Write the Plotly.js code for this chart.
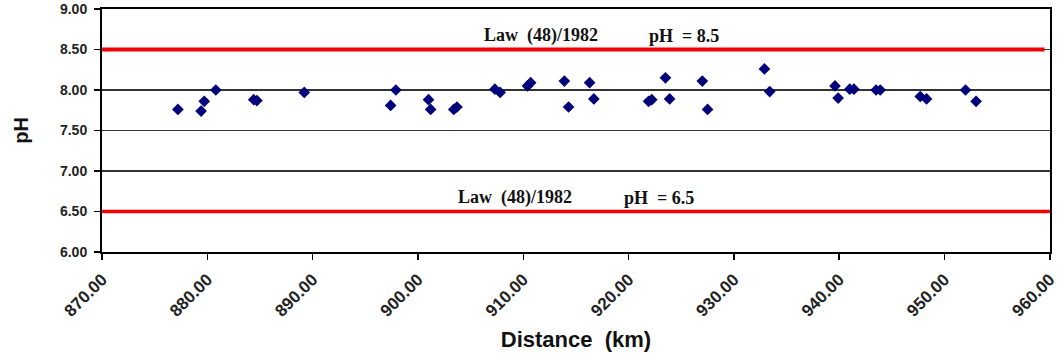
<!DOCTYPE html>
<html>
<head>
<meta charset="utf-8">
<script src="https://cdn.plot.ly/plotly-3.0.1.min.js"></script>
<style>html,body{margin:0;padding:0;background:#fff;}#chart{width:1058px;height:355px;}</style>
</head>
<body>
<div id="chart"></div>
<script>
// Measured pH along distance (km)
const distanceKm = [877.2, 879.4, 879.7, 880.8, 884.4, 884.7, 889.2, 897.4, 897.9, 901.0,
  901.2, 903.4, 903.7, 907.3, 907.8, 910.4, 910.7, 913.9, 914.3, 916.3,
  916.7, 921.9, 922.2, 923.5, 923.9, 927.0, 927.5, 932.9, 933.4, 939.6,
  939.9, 941.0, 941.4, 943.5, 943.9, 947.7, 948.3, 952.0, 953.0];
const phValues = [7.76, 7.74, 7.86, 8.00, 7.88, 7.87, 7.97, 7.81, 8.00, 7.88,
  7.76, 7.76, 7.79, 8.01, 7.97, 8.05, 8.09, 8.11, 7.79, 8.09,
  7.89, 7.86, 7.88, 8.15, 7.89, 8.11, 7.76, 8.26, 7.98, 8.05,
  7.90, 8.01, 8.01, 8.00, 8.00, 7.92, 7.89, 8.00, 7.86];

// Law (48)/1982 limits
const upperLimitX = [870, 959.5];
const upperLimitY = [8.5, 8.5];
const lowerLimitX = [870, 960];
const lowerLimitY = [6.5, 6.5];
const lawLabel = "Law\u00A0 (48)/1982";
const upperLabel = "pH\u00A0 = 8.5";
const lowerLabel = "pH\u00A0 = 6.5";

const xTickVals = [870, 880, 890, 900, 910, 920, 930, 940, 950, 960];
const yTickVals = [6, 6.5, 7, 7.5, 8, 8.5, 9];

const traces = [
  {x: upperLimitX, y: upperLimitY, mode: 'lines', line: {color: '#f00000', width: 4}, hoverinfo: 'skip'},
  {x: lowerLimitX, y: lowerLimitY, mode: 'lines', line: {color: '#f00000', width: 3.5}, hoverinfo: 'skip'},
  {x: distanceKm, y: phValues, mode: 'markers', type: 'scatter',
   marker: {symbol: 'diamond', color: '#00007a', size: 9}}
];

const annFont = {family: 'Liberation Serif, Times New Roman, serif', size: 18, color: '#111', weight: 'bold'};
const layout = {
  width: 1058, height: 355,
  margin: {l: 102, r: 8, t: 9, b: 103},
  paper_bgcolor: '#fff', plot_bgcolor: '#fff',
  showlegend: false,
  xaxis: {
    range: [869.99, 960.02], tickvals: xTickVals,
    ticktext: xTickVals.map(v => '<b>' + v.toFixed(2) + '</b>'),
    tickangle: -45, ticks: 'outside', ticklen: 6, tickcolor: '#000', tickwidth: 1.5,
    showline: true, linecolor: '#000', linewidth: 2, mirror: true,
    showgrid: false, zeroline: false, ticklabelstandoff: 3, ticklabeloverflow: 'allow',
    tickfont: {family: 'Liberation Sans, Arial, sans-serif', size: 17, color: '#222'},
    title: {text: 'Distance\u00A0 (km)', standoff: 12,
      font: {family: 'Liberation Sans, Arial, sans-serif', size: 22, color: '#111', weight: 'bold'}}
  },
  yaxis: {
    range: [6, 9], tickvals: yTickVals,
    ticktext: yTickVals.map(v => '<b>' + v.toFixed(2) + '</b>'),
    ticks: 'outside', ticklen: 6, tickcolor: '#000', tickwidth: 1.5,
    showline: true, linecolor: '#000', linewidth: 2, mirror: true,
    showgrid: true, gridcolor: '#333', gridwidth: 1.2, zeroline: false,
    ticklabelstandoff: 4,
    tickfont: {family: 'Liberation Sans, Arial, sans-serif', size: 14, color: '#222'},
    title: {text: 'pH', standoff: 26,
      font: {family: 'Liberation Sans, Arial, sans-serif', size: 20, color: '#111', weight: 'bold'}}
  },
  annotations: [
    {x: 906.1, y: 8.67, xref: 'x', yref: 'y', text: lawLabel, showarrow: false, xanchor: 'left', yanchor: 'middle', font: annFont},
    {x: 921.7, y: 8.67, xref: 'x', yref: 'y', text: upperLabel, showarrow: false, xanchor: 'left', yanchor: 'middle', font: annFont},
    {x: 903.6, y: 6.67, xref: 'x', yref: 'y', text: lawLabel, showarrow: false, xanchor: 'left', yanchor: 'middle', font: annFont},
    {x: 919.4, y: 6.67, xref: 'x', yref: 'y', text: lowerLabel, showarrow: false, xanchor: 'left', yanchor: 'middle', font: annFont}
  ]
};

Plotly.newPlot('chart', traces, layout, {displayModeBar: false, staticPlot: true});
</script>
</body>
</html>
